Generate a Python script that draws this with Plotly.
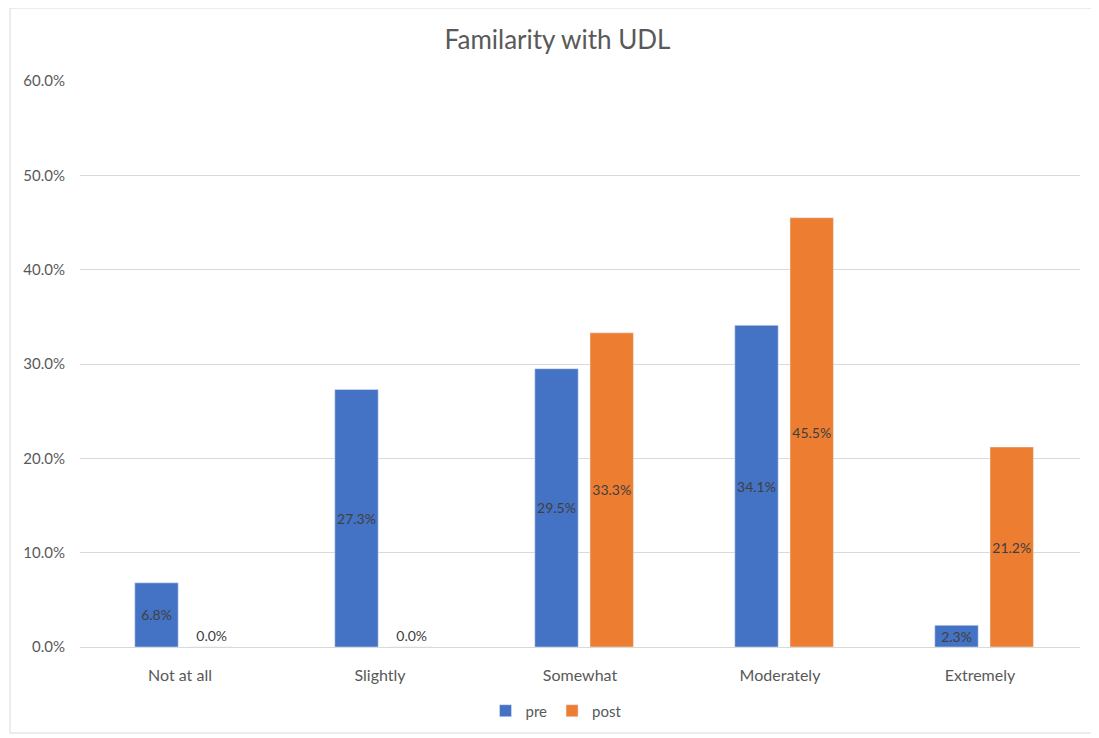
import plotly.graph_objects as go

categories = ["Not at all", "Slightly", "Somewhat", "Moderately", "Extremely"]
pre_values = [0.068, 0.273, 0.295, 0.341, 0.023]
post_values = [0.0, 0.0, 0.333, 0.455, 0.212]
y_ticks = [0.0, 0.1, 0.2, 0.3, 0.4, 0.5, 0.6]

FONT = "Lato, Open Sans, sans-serif"
GREY = "#595959"
BAR_W = 0.217

def positions(vals):
    return ["inside" if v > 0 else "outside" for v in vals]

fig = go.Figure()
fig.add_trace(go.Bar(
    name="pre", x=categories, y=pre_values, marker_color="#4472C4",
    width=BAR_W, offset=-0.226,
    text=[f"{v*100:.1f}%" for v in pre_values], textposition=positions(pre_values),
    insidetextanchor="middle", constraintext="none", textangle=0,
    textfont=dict(family=FONT, size=14, color="#404040"),
))
fig.add_trace(go.Bar(
    name="post", x=categories, y=post_values, marker_color="#ED7D31",
    width=BAR_W, offset=0.05,
    text=[f"{v*100:.1f}%" for v in post_values], textposition=positions(post_values),
    insidetextanchor="middle", constraintext="none", textangle=0,
    textfont=dict(family=FONT, size=14, color="#404040"),
))

fig.update_layout(
    width=1099, height=738,
    margin=dict(l=72, r=27, t=73, b=99),
    paper_bgcolor="white", plot_bgcolor="white",
    barmode="group",
    font=dict(family=FONT, size=15, color=GREY),
    title=dict(text="Familarity with UDL", x=0.5, xanchor="center", y=0.9566, yanchor="middle",
               font=dict(family=FONT, size=26, color=GREY)),
    legend=dict(orientation="h", x=0.476, xanchor="center", y=-0.113, yanchor="middle",
                font=dict(family=FONT, size=15, color=GREY), itemwidth=30, traceorder="normal"),
    xaxis=dict(showgrid=False, showline=True, linecolor="#d9d9d9", linewidth=1,
               range=[-0.5, 4.5],
               ticks="", ticklabelstandoff=14, tickfont=dict(family=FONT, size=16, color=GREY)),
    yaxis=dict(range=[0, 0.6], tickvals=y_ticks, tickformat=".1%", showgrid=True,
               gridcolor="#d9d9d9", gridwidth=1, zeroline=False, showline=False,
               ticks="", ticklabelstandoff=14, tickfont=dict(family=FONT, size=15, color=GREY)),
)

fig.add_shape(type="rect", xref="paper", yref="paper", x0=-0.07, x1=1.017, y0=-0.152, y1=1.129,
              line=dict(color="#d9d9d9", width=1), fillcolor="rgba(0,0,0,0)", layer="below")

fig.write_html("out.html")
